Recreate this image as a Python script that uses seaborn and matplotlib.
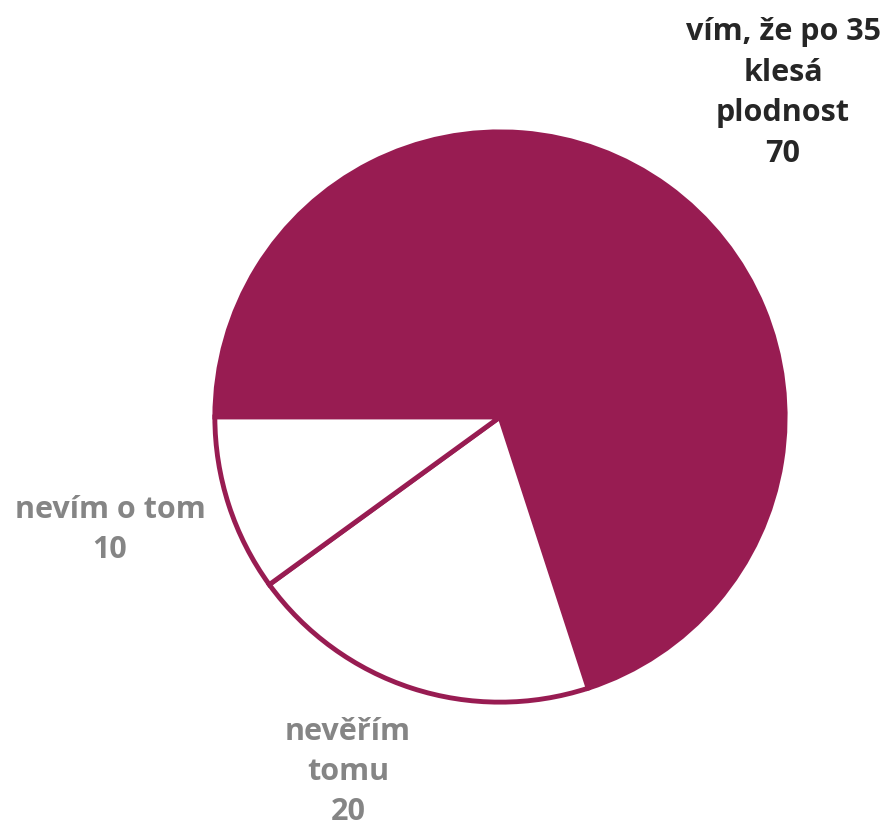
import seaborn as sns
import matplotlib.pyplot as plt
import numpy as np
import pandas as pd

labels = ["vím, že po 35\nklesá\nplodnost", "nevěřím\ntomu", "nevím o tom"]
values = [70, 20, 10]
label_colors = ["#262626", "#858585", "#858585"]

maroon = "#981C52"

sns.set_theme(style="white")
plt.rcParams['font.family'] = ['Open Sans', 'DejaVu Sans']

fig = plt.figure(figsize=(8.88, 8.28), dpi=100)
ax = fig.add_axes([212 / 888, 122 / 828, 576 / 888, 576 / 828])

wedges, _ = ax.pie(values, startangle=180, counterclock=False, radius=1,
                   colors=[maroon, "white", "white"],
                   wedgeprops=dict(edgecolor=maroon, linewidth=3.5))
ax.set_xlim(-1.01, 1.01)
ax.set_ylim(-1.01, 1.01)
ax.axis("off")

# label positions in figure fractions
pos = [(783 / 888, 1 - 93 / 828), (348 / 888, 1 - 772 / 828), (110 / 888, 1 - 530 / 828)]
for lab, v, c, (x, y) in zip(labels, values, label_colors, pos):
    fig.text(x, y, f"{lab}\n{v}", ha="center", va="center", fontsize=22,
             fontweight="bold", color=c, linespacing=1.45)

fig.savefig("out.png", dpi=100)
